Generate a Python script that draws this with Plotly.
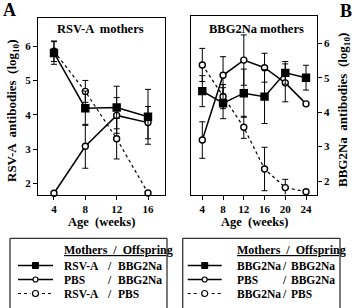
import plotly.graph_objects as go

# ---------------- data ----------------
weeks_a = [4, 8, 12, 16]
rsva_bbg2na = [5.80, 4.19, 4.21, 3.94]
rsva_bbg2na_err = [0.33, 0.50, 0.62, 0.80]
pbs_bbg2na_a = [1.71, 3.08, 3.98, 3.77]
pbs_bbg2na_a_err = [0.0, 0.64, 0.52, 0.47]
rsva_pbs = [5.85, 4.68, 3.30, 1.72]
rsva_pbs_err = [0.30, 0.32, 0.59, 0.0]

weeks_b = [4, 8, 12, 16, 20, 24]
bbg2na_bbg2na = [4.61, 4.26, 4.55, 4.45, 5.14, 5.00]
bbg2na_bbg2na_err = [0.45, 0.45, 0.70, 0.78, 0.33, 0.36]
pbs_bbg2na_b = [3.19, 5.07, 5.51, 5.29, 4.85, 4.24]
pbs_bbg2na_b_err = [0.53, 0.54, 0.73, 0.42, 0.55, 0.0]
bbg2na_pbs = [5.37, 4.45, 3.56, 2.35, 1.81, 1.69]
bbg2na_pbs_err = [0.48, 0.35, 0.32, 0.63, 0.24, 0.0]

y_ticks = [2, 3, 4, 5, 6]
legend_a = [("RSV-A", "BBG2Na"), ("PBS", "BBG2Na"), ("RSV-A", "PBS")]
legend_b = [("BBG2Na", "BBG2Na"), ("PBS", "BBG2Na"), ("BBG2Na", "PBS")]

W, H = 354, 308
FONT = "Liberation Serif"


def px(x):
    return x / W


def py(y):
    return 1 - y / H


fig = go.Figure()


def add_series(x, y, err, xa, ya, symbol, fill, dash):
    fig.add_trace(go.Scatter(
        x=x, y=y, xaxis=xa, yaxis=ya, mode="lines+markers",
        line=dict(color="black", width=1.5 if dash == "solid" else 1.2, dash=dash),
        marker=dict(symbol=symbol, size=7 if symbol == "square" else 6,
                    color=fill, line=dict(color="black", width=1.4)),
        error_y=dict(type="data", array=err, visible=True, color="black",
                     thickness=1, width=3),
        showlegend=False, cliponaxis=False))


# panel A
add_series(weeks_a, rsva_pbs, rsva_pbs_err, "x", "y", "circle", "white", "3px,3px")
add_series(weeks_a, pbs_bbg2na_a, pbs_bbg2na_a_err, "x", "y", "circle", "white", "solid")
add_series(weeks_a, rsva_bbg2na, rsva_bbg2na_err, "x", "y", "square", "black", "solid")
# panel B
add_series(weeks_b, bbg2na_pbs, bbg2na_pbs_err, "x2", "y2", "circle", "white", "3px,3px")
add_series(weeks_b, pbs_bbg2na_b, pbs_bbg2na_b_err, "x2", "y2", "circle", "white", "solid")
add_series(weeks_b, bbg2na_bbg2na, bbg2na_bbg2na_err, "x2", "y2", "square", "black", "solid")

tickfont = dict(family=FONT, size=11, color="black", weight="bold")
axcommon = dict(showline=True, linecolor="black", linewidth=1.3, mirror=True,
                showgrid=False, zeroline=False, ticks="outside", ticklen=4,
                tickwidth=1, tickcolor="black", tickfont=tickfont)

fig.update_layout(
    width=W, height=H, margin=dict(l=0, r=0, t=0, b=0),
    paper_bgcolor="white", plot_bgcolor="white",
    font=dict(family=FONT, color="black"),
    xaxis=dict(domain=[px(38), px(165)], range=[1.96, 18.17], tickvals=weeks_a,
               anchor="y", **axcommon),
    yaxis=dict(domain=[py(195), py(18)], range=[1.66, 6.82], tickvals=y_ticks,
               anchor="x", side="left", **axcommon),
    xaxis2=dict(domain=[px(190.7), px(316.7)], range=[1.76, 26.06], tickvals=weeks_b,
                anchor="y2", **axcommon),
    yaxis2=dict(domain=[py(194.5), py(16)], range=[1.61, 6.79], tickvals=y_ticks,
                anchor="x2", side="right", **axcommon),
)

ann = []


def text(x, y, s, size=11, xanchor="center", angle=0):
    ann.append(dict(x=px(x), y=py(y), xref="paper", yref="paper", text=s,
                    showarrow=False, xanchor=xanchor, yanchor="middle",
                    textangle=angle,
                    font=dict(family=FONT, size=size, color="black", weight="bold")))


text(9, 10, "A", size=18)
text(346, 11, "B", size=18)
text(100, 29, "RSV-A  mothers", size=12.5)
text(256, 29, "BBG2Na mothers", size=12.5)
text(12, 111, "RSV-A  antibodies  (log<sub>10</sub>)", size=13, angle=-90)
text(343, 110, "BBG2Na  antibodies  (log<sub>10</sub>)", size=13, angle=-90)
text(101, 222, "Age  (weeks)", size=12.5)
text(254, 222, "Age  (weeks)", size=12.5)

shapes = []


def line(x0, y0, x1, y1, width=1.3, dash="solid", color="black"):
    shapes.append(dict(type="line", xref="paper", yref="paper", x0=px(x0), y0=py(y0),
                       x1=px(x1), y1=py(y1),
                       line=dict(color=color, width=width, dash=dash)))


def legend_box(x0, x1, rows, sample_x0, sample_x1, text_x, slash_x, off_x):
    # box (open at bottom, cut off by window)
    line(x0, 238.3, x1, 238.3, color="#333")
    line(x0, 238.3, x0, 312, color="#333")
    line(x1, 238.3, x1, 312, color="#333")
    text(text_x, 249.5, "<u>Mothers  /  Offspring</u>", size=12, xanchor="left")
    ys = [265.5, 279.5, 293.5]
    mid = (sample_x0 + sample_x1) / 2
    for i, (m, o) in enumerate(rows):
        y = ys[i]
        if i < 2:
            line(sample_x0, y, sample_x1, y, width=1.5)
        else:
            line(sample_x0, y, sample_x1, y, width=1.2, dash="3px,3px")
            shapes.append(dict(type="rect", xref="paper", yref="paper",
                               x0=px(mid - 5), x1=px(mid + 5), y0=py(y - 3), y1=py(y + 3),
                               fillcolor="white", line=dict(width=0)))
        if i == 0:
            shapes.append(dict(type="rect", xref="paper", yref="paper",
                               x0=px(mid - 3), x1=px(mid + 3), y0=py(y - 3),
                               y1=py(y + 3), fillcolor="black",
                               line=dict(color="black", width=1)))
        else:
            r = 2.5 if i == 1 else 3
            shapes.append(dict(type="circle", xref="paper", yref="paper",
                               x0=px(mid - r), x1=px(mid + r), y0=py(y - r),
                               y1=py(y + r), fillcolor="white",
                               line=dict(color="black", width=1.2)))
        text(text_x, y, m, size=11.5, xanchor="left")
        text(slash_x, y, "/", size=11.5, xanchor="left")
        text(off_x, y, o, size=11.5, xanchor="left")


legend_box(10, 167, legend_a, 18, 53, 62, 105, 116)
legend_box(182.7, 340, legend_b, 187.7, 221.7, 235, 280, 289)

fig.update_layout(annotations=ann, shapes=shapes)
fig.write_html("out.html")
